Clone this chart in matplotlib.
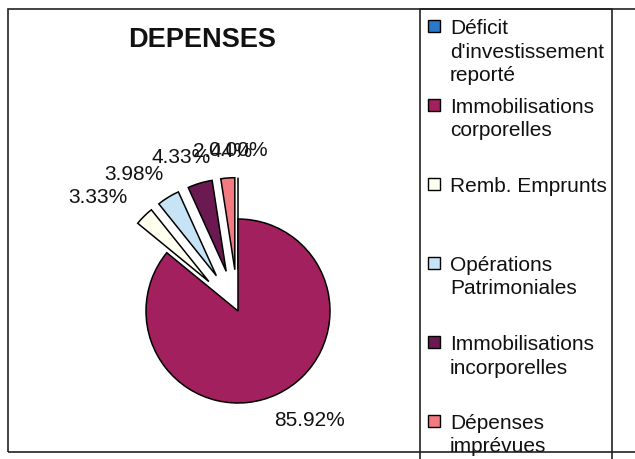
import numpy as np
import matplotlib.pyplot as plt
from matplotlib.patches import Rectangle

plt.rcParams['font.family'] = ['Liberation Sans', 'DejaVu Sans']

# data
categories = ["Déficit\nd'investissement\nreporté",
              "Immobilisations\ncorporelles",
              "Remb. Emprunts",
              "Opérations\nPatrimoniales",
              "Immobilisations\nincorporelles",
              "Dépenses\nimprévues"]
shares = [0.00, 85.92, 3.33, 3.98, 4.33, 2.44]
colors = ['#2a78cc', '#a2205e', '#fffff0', '#c6e4f6', '#6a1a50', '#f27a80']
explode = [0.45, 0, 0.45, 0.45, 0.45, 0.45]

W, H = 635, 460
fig = plt.figure(figsize=(W / 100, H / 100), dpi=100)

# pie centre and radius in pixels (top-left origin)
cx, cy, r = 238, 312, 92
ax = fig.add_axes([0, 0, 1, 1])
wedges, texts, autotexts = ax.pie(
    shares, colors=colors, explode=explode, startangle=90, counterclock=False,
    autopct='%1.2f%%', pctdistance=1.2,
    wedgeprops=dict(edgecolor='black', linewidth=1.1),
    textprops=dict(fontsize=15, color='#111111'))
ax.set_xlim(-cx / r, (W - cx) / r)
ax.set_ylim((cy - H) / r, cy / r)
ax.set_axis_off()

# push the labels outward like Excel does: keep the text box outside the ring
fig.canvas.draw()
rend = fig.canvas.get_renderer()
for w, t in zip(wedges, autotexts):
    ang = np.deg2rad((w.theta1 + w.theta2) / 2)
    dx, dy = np.cos(ang), np.sin(ang)
    bb = t.get_window_extent(rend)
    tw, th = bb.width / r, bb.height / r
    x0, y0 = w.center
    t.set_position((x0 + 1.2 * dx + 0.8 * tw * dx, y0 + 1.2 * dy + 0.5 * th * dy))
    t.set_ha('center')
    t.set_va('center')

# title
fig.text(202 / W, 1 - 40 / H, 'DEPENSES', fontsize=19.5, fontweight='bold',
         ha='center', va='center', color='#111111')


def px(x, y):
    return x / W, 1 - y / H


# chart frame and legend frame
frame = Rectangle(px(8, 453), (640 - 8) / W, (453 - 10) / H, transform=fig.transFigure,
                  fill=False, edgecolor='#222222', linewidth=1.2)
fig.add_artist(frame)
leg = Rectangle(px(420, 480), (612 - 420) / W, (480 - 10) / H, transform=fig.transFigure,
                fill=False, edgecolor='#222222', linewidth=1.2)
fig.add_artist(leg)

# legend entries, evenly spaced like Excel
for i, (lab, col) in enumerate(zip(categories, colors)):
    top = 21 + i * 79
    sq = Rectangle(px(428, top + 12), 12 / W, 12 / H, transform=fig.transFigure,
                   facecolor=col, edgecolor='black', linewidth=1.0)
    fig.add_artist(sq)
    fig.text(450 / W, 1 - (top - 2) / H, lab, fontsize=15, ha='left', va='top',
             linespacing=1.3, color='#111111')

fig.savefig('out.png', dpi=100)
